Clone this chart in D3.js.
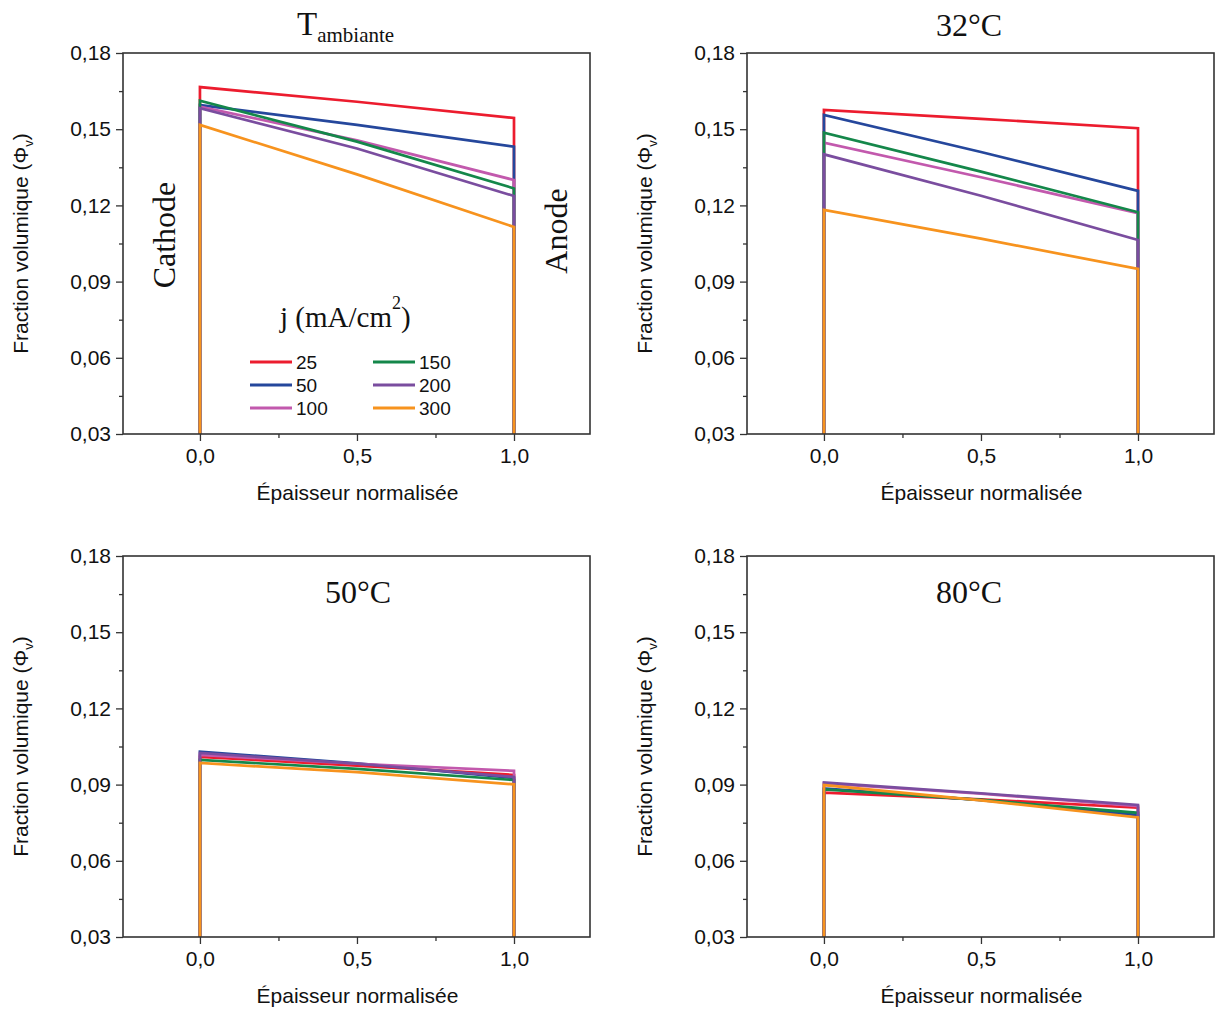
<!DOCTYPE html>
<html><head><meta charset="utf-8">
<script src="https://cdn.jsdelivr.net/npm/d3@7"></script>
<style>
body{margin:0;background:#fff;}
text{font-family:"Liberation Sans",Arial,sans-serif;}
.serif{font-family:"Liberation Serif","Times New Roman",serif;}
</style></head>
<body>
<svg id="chart" width="1216" height="1009"></svg>
<script>
// ---- data ----
const currents = ["25", "50", "100", "150", "200", "300"];
const colors = ["#ec1c2e", "#25479c", "#c259ad", "#14874a", "#7a4d9f", "#f7931e"];
const xPoints = [0, 0.5, 1];            // normalised thickness where values are read
const baseValue = 0.03;
const xTicks = [0, 0.5, 1];
const xMinorTicks = [0.25, 0.75];
const yTicks = [0.03, 0.06, 0.09, 0.12, 0.15, 0.18];
const yMinorTicks = [0.045, 0.075, 0.105, 0.135, 0.165];

// values at x = 0, 0.5, 1 for each current density
const tAmbiante = [
  [0.1666, 0.1608, 0.1544],
  [0.1595, 0.1517, 0.1431],
  [0.1589, 0.1456, 0.1300],
  [0.1612, 0.1451, 0.1267],
  [0.1583, 0.1424, 0.1237],
  [0.1517, 0.1322, 0.1115]
];
const t32 = [
  [0.1576, 0.1541, 0.1504],
  [0.1556, 0.1410, 0.1257],
  [0.1447, 0.1311, 0.1169],
  [0.1486, 0.1333, 0.1173],
  [0.1401, 0.1238, 0.1064],
  [0.1182, 0.1069, 0.0950]
];
const t50 = [
  [0.1009, 0.0975, 0.0938],
  [0.1030, 0.0984, 0.0926],
  [0.1017, 0.0982, 0.0954],
  [0.0997, 0.0962, 0.0918],
  [0.1025, 0.0982, 0.0930],
  [0.0985, 0.0949, 0.0901]
];
const t80 = [
  [0.0868, 0.0842, 0.0809],
  [0.0885, 0.0839, 0.0780],
  [0.0905, 0.0864, 0.0815],
  [0.0881, 0.0840, 0.0789],
  [0.0908, 0.0866, 0.0820],
  [0.0898, 0.0838, 0.0771]
];

const panels = [
  {data: tAmbiante, left: 123, top: 53, title: "amb"},
  {data: t32, left: 747, top: 53, title: "32°C"},
  {data: t50, left: 123, top: 556, title: "50°C"},
  {data: t80, left: 747, top: 556, title: "80°C"}
];

const W = 467, H = 381;
const svg = d3.select("#chart");
const fmtX = d => d3.format(".1f")(d).replace(".", ",");
const fmtY = d => d3.format(".2f")(d).replace(".", ",");

panels.forEach((p, pi) => {
  const g = svg.append("g").attr("transform", `translate(${p.left},${p.top})`);
  const x = d3.scaleLinear().domain([-0.245, 1.242]).range([0, W]);
  const y = d3.scaleLinear().domain([0.03, 0.18]).range([H, 0]);

  // series
  const line = d3.line().x(d => x(d[0])).y(d => y(d[1]));
  p.data.forEach((vals, si) => {
    const pts = [[0, baseValue]].concat(xPoints.map((xv, k) => [xv, vals[k]])).concat([[1, baseValue]]);
    g.append("path").attr("d", line(pts))
      .attr("fill", "none").attr("stroke", colors[si]).attr("stroke-width", 2.7)
      .attr("stroke-linejoin", "miter");
  });

  // axes
  const xa = g.append("g").attr("transform", `translate(0,${H})`)
    .call(d3.axisBottom(x).tickValues(xTicks).tickFormat(fmtX).tickSize(7).tickSizeOuter(0));
  g.append("g").attr("transform", `translate(0,${H})`)
    .call(d3.axisBottom(x).tickValues(xMinorTicks).tickFormat("").tickSize(4).tickSizeOuter(0))
    .select(".domain").remove();
  const ya = g.append("g")
    .call(d3.axisLeft(y).tickValues(yTicks).tickFormat(fmtY).tickSize(7).tickSizeOuter(0));
  g.append("g")
    .call(d3.axisLeft(y).tickValues(yMinorTicks).tickFormat("").tickSize(4).tickSizeOuter(0))
    .select(".domain").remove();
  g.selectAll(".tick line").attr("stroke", "#333").attr("stroke-width", 1.3);
  g.selectAll(".domain").remove();
  xa.selectAll("text").attr("font-size", 21).attr("fill", "#111").attr("dy", "0.92em").attr("font-family", "Liberation Sans, Arial, sans-serif");
  ya.selectAll("text").attr("font-size", 21).attr("fill", "#111").attr("dx", "-2").attr("font-family", "Liberation Sans, Arial, sans-serif");

  g.append("rect").attr("x", 0).attr("y", 0).attr("width", W).attr("height", H)
    .attr("fill", "none").attr("stroke", "#333").attr("stroke-width", 1.6);

  // axis titles
  g.append("text").attr("x", W / 2 + 1).attr("y", H + 66).attr("text-anchor", "middle")
    .attr("font-size", 21).attr("fill", "#111").text("Épaisseur normalisée");
  const yt = g.append("text").attr("transform", `translate(-95,${H / 2}) rotate(-90)`)
    .attr("text-anchor", "middle").attr("font-size", 21).attr("fill", "#111");
  yt.append("tspan").text("Fraction volumique (Φ");
  yt.append("tspan").attr("font-size", 13).attr("dy", 5).text("v");
  yt.append("tspan").attr("dy", -5).text(")");

  // panel titles
  if (p.title === "amb") {
    const t = g.append("text").attr("class", "serif").attr("x", 174).attr("y", -18).attr("fill", "#111");
    t.append("tspan").attr("font-size", 33).text("T");
    t.append("tspan").attr("font-size", 21).attr("dy", 7).text("ambiante");
  } else if (pi === 1) {
    g.append("text").attr("class", "serif").attr("x", 222).attr("y", -17).attr("text-anchor", "middle")
      .attr("font-size", 32).attr("fill", "#111").text(p.title);
  } else {
    g.append("text").attr("class", "serif").attr("x", pi === 2 ? 235 : 222).attr("y", 47).attr("text-anchor", "middle")
      .attr("font-size", 32).attr("fill", "#111").text(p.title);
  }

  if (pi === 0) {
    g.append("text").attr("class", "serif").attr("transform", `translate(52,${182}) rotate(-90)`)
      .attr("text-anchor", "middle").attr("font-size", 32).attr("fill", "#111").text("Cathode");
    g.append("text").attr("class", "serif").attr("transform", `translate(444,${178}) rotate(-90)`)
      .attr("text-anchor", "middle").attr("font-size", 32).attr("fill", "#111").text("Anode");
    // legend
    const lt = g.append("text").attr("class", "serif").attr("x", 157).attr("y", 274)
      .attr("font-size", 29).attr("fill", "#111");
    lt.append("tspan").text("j (mA/cm");
    lt.append("tspan").attr("font-size", 18).attr("dy", -18).text("2");
    lt.append("tspan").attr("dy", 18).text(")");
    currents.forEach((c, i) => {
      const col = Math.floor(i / 3), row = i % 3;
      const lx = 127 + col * 123, ly = 309 + row * 23;
      g.append("line").attr("x1", lx).attr("x2", lx + 42).attr("y1", ly).attr("y2", ly)
        .attr("stroke", colors[i]).attr("stroke-width", 2.8);
      g.append("text").attr("x", lx + 46).attr("y", ly + 7).attr("font-size", 19)
        .attr("fill", "#111").text(c);
    });
  }
});
</script>
</body></html>
